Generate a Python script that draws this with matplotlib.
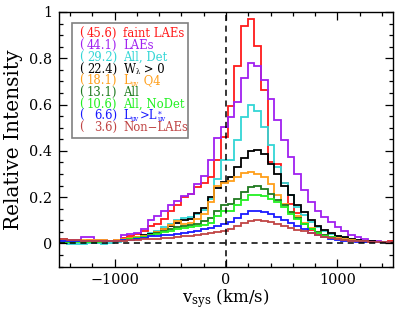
import numpy as np
import matplotlib
matplotlib.use("Agg")
import matplotlib.pyplot as plt
from matplotlib.patches import Rectangle
from matplotlib.ticker import MultipleLocator
from matplotlib.transforms import offset_copy

plt.rcParams['font.family'] = ['DejaVu Serif']
plt.rcParams['mathtext.fontset'] = 'dejavuserif'

# velocity bins (km/s): first edge and width
bin_start = -1545
bin_width = 60
n_bins = 52
edges = bin_start + bin_width * np.arange(n_bins + 1)

faint_laes = [0.02, 0.02, 0.016, 0.014, 0.012, 0.016, 0.012, 0.01, 0.012, 0.012,
              0.024, 0.03, 0.04, 0.055, 0.075, 0.085, 0.105, 0.14, 0.165, 0.2,
              0.215, 0.245, 0.26, 0.285, 0.36, 0.46, 0.594, 0.765, 0.939, 0.971,
              0.855, 0.664, 0.35, 0.345, 0.26, 0.17, 0.13, 0.084, 0.058, 0.044,
              0.033, 0.026, 0.019, 0.014, 0.012, 0.01, 0.01, 0.008, 0.008, 0.008,
              0.009, 0.009]
laes = [0.012, 0.012, 0.014, 0.015, 0.029, 0.026, 0.016, 0.015, 0.012, 0.014,
        0.036, 0.04, 0.045, 0.062, 0.1, 0.12, 0.14, 0.165, 0.185, 0.205,
        0.215, 0.255, 0.29, 0.36, 0.455, 0.505, 0.545, 0.613, 0.715, 0.78,
        0.765, 0.707, 0.623, 0.533, 0.446, 0.374, 0.299, 0.232, 0.179, 0.139,
        0.113, 0.091, 0.07, 0.052, 0.038, 0.026, 0.018, 0.012, 0.009, 0.006,
        0.005, 0.005]
all_det = [0.002, 0.0, -0.002, -0.003, -0.002, 0.0, 0.0, -0.002, 0.0, 0.004,
           0.01, 0.015, 0.02, 0.03, 0.045, 0.055, 0.07, 0.085, 0.1, 0.11,
           0.115, 0.125, 0.145, 0.19, 0.28, 0.36, 0.36, 0.446, 0.545, 0.599,
           0.57, 0.504, 0.425, 0.33, 0.261, 0.207, 0.157, 0.123, 0.091, 0.07,
           0.052, 0.04, 0.03, 0.023, 0.016, 0.012, 0.01, 0.008, 0.006, 0.005,
           0.004, 0.004]
w_pos = [0.012, 0.01, 0.01, 0.01, 0.012, 0.012, 0.01, 0.01, 0.01, 0.012,
         0.018, 0.022, 0.028, 0.035, 0.04, 0.05, 0.06, 0.075, 0.09, 0.1,
         0.105, 0.13, 0.155, 0.2, 0.24, 0.265, 0.285, 0.33, 0.37, 0.4,
         0.405, 0.385, 0.345, 0.3, 0.25, 0.21, 0.164, 0.135, 0.102, 0.077,
         0.058, 0.044, 0.032, 0.026, 0.019, 0.015, 0.012, 0.01, 0.008, 0.007,
         0.006, 0.006]
luv_q4 = [0.015, 0.015, 0.012, 0.012, 0.014, 0.016, 0.016, 0.014, 0.012, 0.014,
          0.018, 0.022, 0.026, 0.03, 0.035, 0.05, 0.06, 0.08, 0.095, 0.085,
          0.09, 0.105, 0.125, 0.18, 0.25, 0.26, 0.27, 0.285, 0.305, 0.31,
          0.3, 0.285, 0.255, 0.21, 0.17, 0.135, 0.12, 0.09, 0.065, 0.05,
          0.037, 0.028, 0.022, 0.017, 0.013, 0.01, 0.008, 0.007, 0.006, 0.005,
          0.005, 0.005]
all_gal = [0.01, 0.008, 0.008, 0.01, 0.01, 0.01, 0.012, 0.012, 0.012, 0.012,
           0.015, 0.018, 0.022, 0.028, 0.035, 0.045, 0.052, 0.06, 0.07, 0.075,
           0.08, 0.085, 0.095, 0.11, 0.14, 0.165, 0.171, 0.193, 0.221, 0.243,
           0.246, 0.236, 0.215, 0.188, 0.164, 0.135, 0.11, 0.085, 0.063, 0.047,
           0.035, 0.026, 0.02, 0.016, 0.012, 0.01, 0.008, 0.007, 0.006, 0.005,
           0.005, 0.005]
all_nodet = [0.008, 0.008, 0.006, 0.006, 0.008, 0.008, 0.008, 0.01, 0.01, 0.01,
             0.014, 0.018, 0.022, 0.028, 0.035, 0.042, 0.048, 0.055, 0.06, 0.065,
             0.07, 0.075, 0.08, 0.09, 0.12, 0.14, 0.142, 0.164, 0.186, 0.207,
             0.211, 0.203, 0.193, 0.178, 0.157, 0.128, 0.105, 0.082, 0.06, 0.045,
             0.034, 0.026, 0.02, 0.015, 0.012, 0.01, 0.008, 0.006, 0.005, 0.005,
             0.004, 0.004]
luv_bright = [0.012, 0.012, 0.01, 0.01, 0.01, 0.01, 0.01, 0.01, 0.01, 0.012,
              0.014, 0.016, 0.02, 0.025, 0.03, 0.032, 0.035, 0.038, 0.04, 0.045,
              0.05, 0.055, 0.06, 0.065, 0.075, 0.085, 0.091, 0.11, 0.125, 0.138,
              0.139, 0.135, 0.125, 0.113, 0.1, 0.088, 0.077, 0.06, 0.045, 0.035,
              0.027, 0.021, 0.016, 0.012, 0.01, 0.008, 0.007, 0.006, 0.005, 0.005,
              0.004, 0.004]
non_laes = [0.02, 0.018, 0.015, 0.014, 0.012, 0.012, 0.01, 0.01, 0.01, 0.012,
            0.012, 0.014, 0.015, 0.018, 0.02, 0.02, 0.022, 0.025, 0.028, 0.03,
            0.033, 0.036, 0.04, 0.045, 0.05, 0.055, 0.062, 0.077, 0.088, 0.098,
            0.101, 0.098, 0.091, 0.084, 0.077, 0.067, 0.058, 0.052, 0.045, 0.035,
            0.028, 0.022, 0.018, 0.015, 0.012, 0.01, 0.009, 0.008, 0.007, 0.006,
            0.006, 0.006]

series = [faint_laes, laes, all_det, w_pos, luv_q4, all_gal, all_nodet, luv_bright, non_laes]
numbers = ['45.6', '44.1', '29.2', '22.4', '18.1', '13.1', '10.6', '6.6', '3.6']
# label pieces: (text, kind) with kind 'n' normal, 'b' subscript, 'p' superscript
labels = [[('faint LAEs', 'n')],
          [('LAEs', 'n')],
          [('All, Det', 'n')],
          [('W', 'n'), ('\u03bb', 'b'), (' > 0', 'n')],
          [('L', 'n'), ('uv', 'b'), (' Q4', 'n')],
          [('All', 'n')],
          [('All, NoDet', 'n')],
          [('L', 'n'), ('uv', 'b'), ('>L', 'n'), ('*', 'p'), ('uv', 'b')],
          [('Non\u2212LAEs', 'n')]]
colors = ['#ff1a1a', '#a020f0', '#33d6d6', '#000000', '#ff9f1a', '#1f7a1f',
          '#22f022', '#1a1aff', '#c04545']

fig = plt.figure(figsize=(4.09, 3.09), dpi=100)
ax = fig.add_axes([0.1443, 0.1375, 0.8166, 0.8237])

for vals, col in zip(series, colors):
    ax.stairs(vals, edges, color=col, lw=1.3, baseline=None)

ax.axvline(0, color='black', lw=1.1, ls=(0, (4, 3)))
ax.axhline(0, color='black', lw=1.1, ls=(0, (4, 3)))

ax.set_xlim(-1500, 1500)
ax.set_ylim(-0.1, 1.0)
ax.xaxis.set_major_locator(MultipleLocator(1000))
ax.xaxis.set_minor_locator(MultipleLocator(200))
ax.yaxis.set_major_locator(MultipleLocator(0.2))
ax.yaxis.set_minor_locator(MultipleLocator(0.05))
ax.set_yticks([0, 0.2, 0.4, 0.6, 0.8, 1.0])
ax.set_yticklabels(['0', '0.2', '0.4', '0.6', '0.8', '1'])
ax.tick_params(which='both', direction='in', top=True, right=True, labelsize=10.4)
ax.tick_params(axis='x', pad=5)
ax.tick_params(axis='y', pad=5)
ax.tick_params(which='major', length=5.5, width=0.9)
ax.tick_params(which='minor', length=3, width=0.9)
for sp in ax.spines.values():
    sp.set_linewidth(1.0)

ax.set_xlabel(r'v$_{\rm sys}$ (km/s)', fontsize=12, labelpad=0)
ax.set_ylabel('Relative Intensity', fontsize=14.5, labelpad=4)

# legend box
ax.add_patch(Rectangle((0.038, 0.504), 0.349, 0.454, transform=ax.transAxes,
                       fill=False, edgecolor='#808080', lw=1.2, zorder=5))
renderer = fig.canvas.get_renderer()
y0 = 0.916 - 0.016
dy = 0.046
fs = 8.4
for i, (num, pieces, col) in enumerate(zip(numbers, labels, colors)):
    y = y0 - i * dy
    ax.text(0.060, y, '(', color=col, fontsize=fs, transform=ax.transAxes,
            ha='left', va='baseline')
    ax.text(0.174, y, num + ')', color=col, fontsize=fs, transform=ax.transAxes,
            ha='right', va='baseline')
    dx = 0.0
    for txt, kind in pieces:
        if kind == 'n':
            size, shift = fs, 0.0
        elif kind == 'b':
            size, shift = fs * 0.58, -1.3
        else:
            size, shift = fs * 0.65, 3.0
        tr = offset_copy(ax.transAxes, fig=fig, x=dx, y=shift, units='dots')
        t = ax.text(0.193, y, txt, color=col, fontsize=size, transform=tr,
                    ha='left', va='baseline')
        w = t.get_window_extent(renderer).width
        if kind != 'p':
            dx += w + (0.5 if kind == 'b' else 0.0)

fig.savefig('out.png', dpi=100)
